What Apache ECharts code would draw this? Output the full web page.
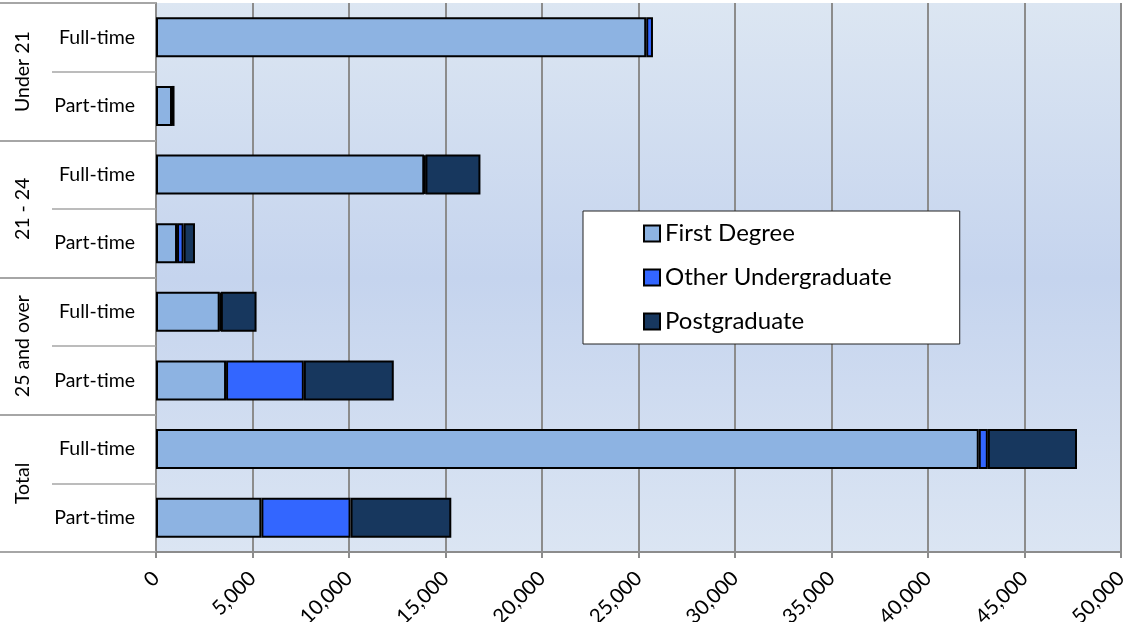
<!DOCTYPE html>
<html><head><meta charset="utf-8">
<script src="https://cdn.jsdelivr.net/npm/echarts@6/dist/echarts.min.js"></script>
<style>html,body{margin:0;padding:0;background:#fff}#c{width:1125px;height:622px}</style>
</head><body><div id="c"></div>
<script>
const groups = ["Under 21", "21 - 24", "25 and over", "Total"];
const modes = ["Full-time", "Part-time", "Full-time", "Part-time", "Full-time", "Part-time", "Full-time", "Part-time"];
const firstDegree = [25400, 830, 13900, 1090, 3300, 3630, 42630, 5460];
const otherUndergrad = [350, 130, 60, 340, 60, 4030, 470, 4620];
const postgraduate = [null, null, 2850, 590, 1850, 4660, 4620, 5220];
const xTicks = { min: 0, max: 50000, interval: 5000 };

const font = 'Lato, "Open Sans", sans-serif';
const chart = echarts.init(document.getElementById('c'));
const barStyle = c => ({ color: c, borderColor: '#000', borderWidth: 2 });
chart.setOption({
  animation: false,
  textStyle: { fontFamily: font },
  grid: {
    left: 156, right: 4, top: 3, bottom: 70,
    containLabel: false, outerBoundsMode: 'none',
    show: true, borderWidth: 0,
    backgroundColor: { type: 'linear', x: 0, y: 0, x2: 0, y2: 1, colorStops: [
      { offset: 0, color: '#dce6f2' }, { offset: 0.5, color: '#c5d4ee' }, { offset: 1, color: '#dbe5f3' }] }
  },
  legend: {
    orient: 'vertical', left: 583, top: 211,
    backgroundColor: '#fff', borderColor: '#222', borderWidth: 1,
    padding: [10, 68, 10, 60],
    itemWidth: 16, itemHeight: 16, itemGap: 19, icon: 'rect',
    textStyle: { fontSize: 24, color: '#000', fontFamily: font, lineHeight: 25 },
    data: ['First Degree', 'Other Undergraduate', 'Postgraduate']
  },
  xAxis: {
    type: 'value', min: xTicks.min, max: xTicks.max, interval: xTicks.interval,
    axisLine: { show: true, lineStyle: { color: '#8c8c8c', width: 2 } },
    axisTick: { show: true, length: 6, lineStyle: { color: '#8c8c8c', width: 2 } },
    splitLine: { show: true, lineStyle: { color: '#8c8c8c', width: 2 } },
    axisLabel: { rotate: 45, fontSize: 20.5, color: '#000', margin: 23, fontFamily: font,
      formatter: v => v.toLocaleString('en-US') }
  },
  yAxis: [
    {
      type: 'category', inverse: true, data: modes,
      axisLine: { show: true, lineStyle: { color: '#8c8c8c', width: 2 } },
      axisTick: { show: true, length: 104, lineStyle: { color: '#a6a6a6', width: 1.5 } },
      axisLabel: { fontSize: 19.5, color: '#000', margin: 21, fontFamily: font }
    },
    {
      type: 'category', inverse: true, data: groups, position: 'left',
      axisLine: { show: false },
      axisTick: { show: true, length: 156, lineStyle: { color: '#a6a6a6', width: 2 } },
      axisLabel: { rotate: 90, fontSize: 19.5, color: '#000', margin: 123, fontFamily: font }
    }
  ],
  series: [
    { name: 'First Degree', type: 'bar', stack: 't', data: firstDegree, barWidth: 40, itemStyle: barStyle('#8db3e2') },
    { name: 'Other Undergraduate', type: 'bar', stack: 't', data: otherUndergrad, barWidth: 40, itemStyle: barStyle('#3366ff') },
    { name: 'Postgraduate', type: 'bar', stack: 't', data: postgraduate, barWidth: 40, itemStyle: barStyle('#17375e') }
  ]
});
</script></body></html>
